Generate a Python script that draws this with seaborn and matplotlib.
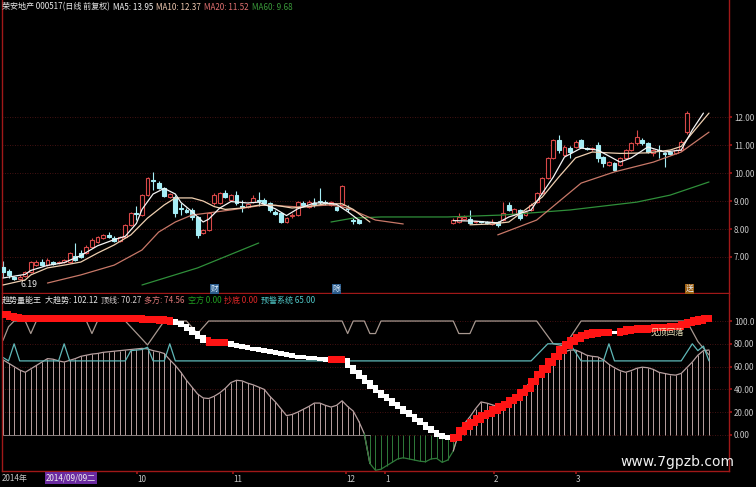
import numpy as np
import pandas as pd
import matplotlib
matplotlib.use("Agg")
import matplotlib.pyplot as plt
import seaborn as sns

# ---------------- data ----------------
# candles (left group, then right group after the suspension gap)
candle_bars = list(range(0, 65)) + list(range(81, 124))
opens = [6.64, 6.50, 6.29, 6.21, 6.32, 6.46, 6.71, 6.82, 6.71, 6.82, 6.80, 6.82, 6.82, 7.04, 7.14, 7.14,
         7.36, 7.54, 7.68, 7.79, 7.68, 7.57, 7.71, 8.14, 8.57, 8.50, 9.21, 9.75, 9.64, 9.46, 9.14, 9.14,
         8.75, 8.68, 8.68, 8.43, 7.86, 7.96, 8.93, 8.93, 9.28, 9.04, 9.21, 8.82, 8.79, 8.96, 9.04, 9.04,
         8.93, 8.61, 8.57, 8.25, 8.46, 8.50, 8.93, 8.79, 8.93, 9.00, 8.96, 8.86, 8.79, 8.86, 8.75, 8.32,
         8.32,
         8.21, 8.25, 8.36, 8.36, 8.25, 8.27, 8.23, 8.18, 8.25, 8.32, 8.86, 8.54, 8.68, 8.50, 8.68, 8.96,
         9.29, 9.82, 10.54, 11.18, 10.64, 10.89, 10.93, 11.18, 10.89, 10.86, 11.00, 10.57, 10.29, 10.36,
         10.29, 10.54, 10.82, 11.07, 11.18, 11.07, 10.71, 10.82, 10.71, 10.75, 10.71, 10.82, 11.46]
highs = [6.86, 6.57, 6.32, 6.36, 6.50, 6.86, 6.89, 6.93, 6.96, 6.86, 6.86, 6.93, 7.18, 7.50, 7.25, 7.43,
         7.68, 7.75, 7.82, 7.89, 7.75, 7.75, 8.18, 8.61, 8.82, 9.25, 9.86, 10.04, 9.70, 9.50, 9.28, 9.21,
         8.93, 8.75, 8.75, 8.46, 8.00, 8.61, 9.28, 9.32, 9.39, 9.25, 9.36, 9.04, 8.93, 9.20, 9.32, 9.10,
         8.96, 8.68, 8.60, 8.43, 8.57, 9.00, 9.00, 9.04, 9.11, 9.46, 9.04, 9.00, 8.82, 9.57, 8.86, 8.39,
         8.36,
         8.39, 8.57, 8.50, 8.68, 8.29, 8.30, 8.27, 8.36, 8.29, 8.96, 8.96, 8.75, 8.71, 8.68, 8.93, 9.32,
         9.86, 10.57, 11.21, 11.36, 11.00, 10.96, 11.18, 11.21, 10.93, 10.93, 11.10, 10.60, 10.43, 10.39,
         10.57, 10.86, 11.11, 11.54, 11.25, 11.10, 10.86, 11.00, 10.75, 10.79, 10.86, 11.18, 12.20]
lows = [6.29, 6.25, 6.19, 6.19, 6.28, 6.43, 6.68, 6.68, 6.68, 6.71, 6.75, 6.78, 6.78, 6.86, 6.96, 7.10,
        7.32, 7.50, 7.64, 7.68, 7.54, 7.54, 7.68, 8.10, 8.32, 8.46, 9.18, 9.39, 9.43, 9.14, 9.10, 8.43,
        8.50, 8.57, 8.32, 7.68, 7.82, 7.93, 8.86, 8.90, 9.10, 9.00, 8.86, 8.61, 8.75, 8.93, 8.82, 8.86,
        8.61, 8.50, 8.20, 8.21, 8.40, 8.46, 8.82, 8.75, 8.79, 8.86, 8.86, 8.82, 8.64, 8.82, 8.61, 8.18,
        8.18,
        8.18, 8.21, 8.32, 8.18, 8.21, 8.22, 8.18, 8.14, 8.07, 8.29, 8.64, 8.50, 8.32, 8.46, 8.64, 8.93,
        9.25, 9.79, 10.50, 10.70, 10.60, 10.54, 10.89, 10.89, 10.82, 10.80, 10.40, 10.20, 10.25, 10.07,
        10.25, 10.50, 10.79, 11.00, 11.00, 10.70, 10.60, 10.54, 10.21, 10.64, 10.68, 10.79, 11.40]
closes = [6.46, 6.36, 6.21, 6.29, 6.46, 6.82, 6.82, 6.71, 6.89, 6.75, 6.82, 6.89, 7.14, 6.89, 7.00, 7.36,
          7.61, 7.71, 7.79, 7.71, 7.57, 7.71, 8.14, 8.57, 8.54, 9.21, 9.82, 9.71, 9.46, 9.18, 9.25, 8.57,
          8.71, 8.61, 8.43, 7.79, 7.96, 8.57, 9.21, 9.28, 9.14, 9.21, 8.93, 8.78, 8.89, 9.11, 9.00, 8.93,
          8.68, 8.54, 8.25, 8.39, 8.50, 8.96, 8.86, 8.96, 8.89, 8.96, 8.93, 8.96, 8.68, 9.54, 8.71, 8.29,
          8.21,
          8.32, 8.43, 8.43, 8.21, 8.25, 8.25, 8.21, 8.25, 8.14, 8.57, 8.68, 8.71, 8.39, 8.61, 8.86, 9.29,
          9.82, 10.54, 11.18, 10.82, 10.93, 10.75, 11.11, 10.93, 10.86, 10.89, 10.54, 10.36, 10.39, 10.11,
          10.54, 10.82, 11.07, 11.29, 11.07, 10.75, 10.82, 10.79, 10.68, 10.68, 10.82, 11.11, 12.14]

# moving averages (vertices), two segments each
ma5_bars = [[0, 4, 5, 8, 11, 14, 17, 20, 22, 24, 25, 27, 29, 31, 32, 34, 36, 37, 39, 41, 44, 46, 49,
             51, 53, 56, 58, 60, 62, 64],
            [81, 85, 89, 91, 95, 99, 101, 104, 107, 111, 113, 116, 119, 122, 124, 126]]
ma5_vals = [[6.25, 6.38, 6.52, 6.70, 6.80, 7.05, 7.40, 7.62, 7.74, 8.20, 8.70, 9.25, 9.45, 9.25, 8.95,
             8.62, 8.25, 8.35, 8.75, 8.98, 8.93, 8.96, 8.72, 8.48, 8.72, 8.93, 8.93, 8.88, 8.62, 8.32],
            [8.30, 8.28, 8.22, 8.43, 8.68, 9.86, 10.57, 10.89, 10.82, 10.39, 10.54, 10.93, 10.75, 10.82,
             11.54, 12.14]]
ma10_bars = [[0, 4, 5, 8, 11, 14, 17, 20, 23, 26, 29, 31, 34, 36, 38, 40, 43, 46, 49, 52, 55, 58, 61,
              63, 66],
             [84, 88, 91, 97, 100, 103, 106, 111, 116, 120, 122, 124, 127]]
ma10_vals = [[6.00, 6.18, 6.36, 6.61, 6.71, 6.82, 7.14, 7.43, 7.79, 8.39, 8.86, 9.11, 9.11, 9.00, 8.80,
              8.70, 8.75, 8.85, 8.85, 8.75, 8.80, 8.90, 8.90, 8.70, 8.25],
             [8.15, 8.18, 8.25, 9.14, 9.86, 10.54, 10.75, 10.70, 10.72, 10.82, 10.95, 11.43, 12.14]]
ma20_bars = [[8, 14, 20, 25, 28, 31, 34, 36, 41, 47, 53, 59, 62, 67, 72],
             [89, 96, 104, 110, 117, 122, 127]]
ma20_vals = [[6.07, 6.36, 6.71, 7.25, 7.89, 8.25, 8.50, 8.55, 8.68, 8.86, 8.79, 8.86, 8.75, 8.32, 8.18],
             [7.79, 8.32, 9.64, 10.04, 10.39, 10.75, 11.46]]
ma60_bars = [[25, 35, 46], [59, 63, 68, 80, 90, 102, 114, 120, 127]]
ma60_vals = [[6.00, 6.61, 7.50], [8.25, 8.39, 8.43, 8.43, 8.50, 8.68, 8.96, 9.21, 9.68]]

# indicator panel, one value per bar (0..127)
trend = [106, 104, 103, 102.5, 102.5, 102, 102, 102, 102, 102, 102.5, 102.5, 102.5, 102, 102, 102,
         102, 102, 102, 102, 102, 102, 102, 102, 102, 101.5, 101.5, 101.5, 101, 100.5, 100,
         98, 96, 93, 89.5, 86, 82.5, 81, 81, 81, 81, 79, 78, 77, 76, 75.5, 74.5, 73.5, 73, 72, 71, 70,
         69, 68.5, 68, 67.5, 67, 66.5, 66, 66, 66, 66, 60, 55, 51, 46.5, 42, 38, 34, 31, 27, 24, 20, 17,
         13, 10, 6, 3, 0, -2, -3, -2, 3.5, 8, 11, 14, 17, 19, 22, 24.5, 27, 30, 33, 37, 41, 47, 53, 58,
         64, 69, 74.5, 79, 82.5, 85, 87, 88.5, 89.5, 90, 90, 90, 90, 91, 92, 92.5, 93, 93, 93.5, 94, 94,
         94.5, 95, 95, 97, 99, 100, 101, 102, 102.12]
trend_white_runs = [(31, 36), (41, 58), (62, 80), (110, 110)]
bull = [66, 63, 60, 57, 55, 58, 61, 64, 67, 66.5, 65, 64, 65.5, 67, 69, 70, 71, 71.5, 72.5, 73, 73.5,
        74, 74.5, 75, 75.5, 76, 75.5, 74, 73, 71.5, 66, 61, 55, 48, 42, 36, 32.5, 32, 34, 37, 41, 46,
        48, 47.5, 45.5, 44, 42, 40, 34, 29, 23, 17, 18, 20, 22.5, 25, 28, 28, 26, 24.5, 26, 30, 25, 21,
        12, 1, -25, -31, -30, -27, -24, -21, -20, -21, -22, -23, -23.5, -21, -20.5, -24, -22, -14, 2,
        10, 16, 23, 29, 28, 26.5, 25, 26.5, 28, 32, 38, 42, 47, 51, 57, 63, 67, 71, 73, 74.5, 74.5,
        72.5, 70, 69, 68.5, 66, 62, 59, 56.5, 55, 56.5, 58.5, 59.5, 59, 57.5, 55, 54, 53, 52.5, 54, 59,
        64, 70, 74, 74.56]
top_bars = [0, 1, 2, 4, 5, 6, 15, 16, 17, 22, 26, 29, 33, 35, 37, 61, 62, 63, 65, 66, 67, 68, 81, 82,
            84, 85, 96, 99, 101, 104, 123, 125, 127]
top_vals = [83, 95, 100, 100, 89, 100, 100, 89, 100, 100, 79, 100, 100, 89, 100, 100, 89, 100, 100, 89,
            89, 100, 100, 89, 89, 100, 100, 80, 78, 100, 100, 82, 70.27]
warn_bars = [0, 1, 2, 3, 10, 11, 12, 22, 23, 25, 26, 27, 29, 30, 31, 95, 98, 102, 104, 108, 109, 110,
             122, 124, 125, 126, 127]
warn_vals = [68, 65, 80, 65, 65, 80, 65, 65, 74, 75, 77, 65, 65, 80, 65, 65, 80, 80, 65, 65, 80, 65,
             65, 80, 74, 78, 65]

month_bars = [24.1, 41.4, 61.7, 68.7, 88.3, 103.0]
month_labels = ["10", "11", "12", "1", "2", "3"]
price_ticks = [7, 8, 9, 10, 11, 12]
ind_ticks = [0, 20, 40, 60, 80, 100]
ind_tick_labels = ["0.00", "20.00", "40.00", "60.00", "80.00", "100.0"]

# ---------------- style ----------------
sns.set_theme(style="dark", rc={"axes.facecolor": "black", "figure.facecolor": "black"})
plt.rcParams['font.family'] = ['Noto Sans CJK SC', 'DejaVu Sans']
plt.rcParams['axes.unicode_minus'] = False

RED_LINE = "#a01818"
GRID = "#5a1818"
UP = "#d84848"
DOWN = "#a6eef6"
TXT = "#c8c8c8"

W, H = 756, 487
fig = plt.figure(figsize=(W / 100, H / 100), dpi=100, facecolor="black")


def box(x0, y0, x1, y1):
    return [x0 / W, 1 - y1 / H, (x1 - x0) / W, (y1 - y0) / H]


ax1 = fig.add_axes(box(2, 0, 729, 293))
ax2 = fig.add_axes(box(2, 294, 729, 471))
for ax in (ax1, ax2):
    ax.set_facecolor("black")
    ax.set_xlim(-0.18, 130.6)
    for side in ("left", "right", "bottom"):
        ax.spines[side].set_visible(True)
        ax.spines[side].set_color(RED_LINE)
        ax.spines[side].set_linewidth(1.0)
    ax.spines["top"].set_visible(False)
    ax.grid(False)
    ax.yaxis.tick_right()
    ax.tick_params(axis="y", which="both", left=False, right=True, labelleft=False, labelright=True,
                   colors=RED_LINE, labelcolor=TXT, labelsize=5.8, length=2, pad=1.5)

ax1.set_ylim(5.714, 16.18)
ax2.set_ylim(-31.6, 123.7)

# ---------------- price panel ----------------
for p in price_ticks:
    ax1.axhline(p, color=GRID, lw=0.6, ls=(0, (1, 2)), zorder=0)
ax1.set_yticks(price_ticks)
ax1.set_yticklabels([f"{p:.2f}" for p in price_ticks])
ax1.set_xticks([])

cdf = pd.DataFrame({"bar": candle_bars, "open": opens, "high": highs, "low": lows, "close": closes})
cdf["bottom"] = cdf[["open", "close"]].min(axis=1)
cdf["height"] = (cdf["close"] - cdf["open"]).abs().clip(lower=0.025)
up = cdf["close"] >= cdf["open"]
for mask, col, face in [(up, UP, "black"), (~up, DOWN, DOWN)]:
    sub = cdf[mask]
    ax1.vlines(sub["bar"], sub["low"], sub["high"], color=col, lw=0.8, zorder=2)
    ax1.bar(sub["bar"], sub["height"], bottom=sub["bottom"], width=0.7, facecolor=face,
            edgecolor=col, linewidth=0.8, zorder=3)


def seg_frame(bars, vals):
    rows = []
    for k, (bs, vs) in enumerate(zip(bars, vals)):
        rows += [{"bar": b, "val": v, "seg": k} for b, v in zip(bs, vs)]
    return pd.DataFrame(rows)


for bars, vals, col in [(ma60_bars, ma60_vals, "#2f8f3a"), (ma20_bars, ma20_vals, "#c87868"),
                        (ma10_bars, ma10_vals, "#efcfb0"), (ma5_bars, ma5_vals, "#f4f4f4")]:
    sns.lineplot(data=seg_frame(bars, vals), x="bar", y="val", units="seg", estimator=None,
                 sort=False, color=col, lw=0.9, ax=ax1, zorder=4)
ax1.set_xlabel("")
ax1.set_ylabel("")

ax1.annotate("6.19", xy=(2, 6.19), xytext=(3.2, 5.93), color="#e8e8e8", fontsize=6.3,
             arrowprops=dict(arrowstyle="-", color="#e8e8e8", lw=0.6))
for b, s, bg in [(38, "财", "#2c5c8c"), (60, "除", "#2c5c8c"), (123.5, "送", "#a06010")]:
    ax1.text(b, 5.85, s, color="#e0f0ff", fontsize=5.5, ha="center", va="center",
             bbox=dict(boxstyle="square,pad=0.1", fc=bg, ec="none"))

renderer = fig.canvas.get_renderer()


def text_row(items, x0, y, size):
    # lay the pieces out one after the other so they never overlap
    x = x0
    for s, col in items:
        t = fig.text(x / W, 1 - y / H, s, color=col, fontsize=size, ha="left", va="center")
        x = t.get_window_extent(renderer).x1 + 3


text_row([("荣安地产 000517(日线 前复权)", "#e8e8e8"), ("MA5: 13.95", "#f4f4f4"),
          ("MA10: 12.37", "#efc8b0"), ("MA20: 11.52", "#e07070"), ("MA60: 9.68", "#3a9a3a")],
         2, 7, 5.8)

# ---------------- indicator panel ----------------
for v in ind_ticks:
    ax2.axhline(v, color=GRID, lw=0.6, ls=(0, (1, 2)), zorder=0)
ax2.set_yticks(ind_ticks)
ax2.set_yticklabels(ind_tick_labels)

ind = pd.DataFrame({"bar": np.arange(len(trend)), "trend": trend, "bull": bull})
pos = ind[ind["bull"] >= 0]
neg = ind[ind["bull"] < 0]
ax2.vlines(pos["bar"], 0, pos["bull"], color="#b8a0a0", lw=0.7, zorder=1)
ax2.vlines(neg["bar"], 0, neg["bull"], color="#2f7a3a", lw=0.7, zorder=1)
ax2.plot([0, 66], [0, 0], color="#8a8080", lw=0.7, zorder=1)
sns.lineplot(data=ind[ind["bar"] <= 66], x="bar", y="bull", color="#b8a0a0", lw=0.9, ax=ax2, zorder=2)
sns.lineplot(data=ind[(ind["bar"] >= 65) & (ind["bar"] <= 82)], x="bar", y="bull", color="#2f7a3a",
             lw=0.9, ax=ax2, zorder=2)
sns.lineplot(data=ind[ind["bar"] >= 81], x="bar", y="bull", color="#b8a0a0", lw=0.9, ax=ax2, zorder=2)
sns.lineplot(x=top_bars, y=top_vals, color="#a89890", lw=0.9, ax=ax2, zorder=2)
sns.lineplot(x=warn_bars, y=warn_vals, color="#5fb8b8", lw=0.9, ax=ax2, zorder=2)

white = np.zeros(len(trend), dtype=bool)
for a, b in trend_white_runs:
    white[a:b + 1] = True
ind["prev"] = ind["trend"].shift(1).fillna(ind["trend"].iloc[0])
ind["lo"] = ind[["prev", "trend"]].min(axis=1)
ind["hi"] = ind[["prev", "trend"]].max(axis=1)
for mask, col, h in [(~white, "#ff1414", 3.2), (white, "#ffffff", 1.6)]:
    sub = ind[mask]
    ax2.bar(sub["bar"], sub["hi"] - sub["lo"] + 2 * h, bottom=sub["lo"] - h, width=1.0, color=col,
            linewidth=0, zorder=5)
ax2.set_xlabel("")
ax2.set_ylabel("")
ax2.text(119.6, 90.5, "见顶回落", color="#f0e8c0", fontsize=6.0, ha="center", va="center", zorder=6)

# date axis along bottom
ax2.set_xticks(month_bars)
ax2.set_xticklabels(month_labels)
ax2.tick_params(axis="x", bottom=True, length=2, colors=RED_LINE, labelcolor=TXT, labelsize=5.8, pad=1)
for t in ax2.get_xticklabels():
    t.set_ha("left")

text_row([("趋势量能王", "#e8e8e8"), ("大趋势: 102.12", "#e8e8e8"), ("顶线: 70.27", "#d8d0d0"),
          ("多方: 74.56", "#e07878"), ("空方 0.00", "#20a020"), ("抄底 0.00", "#e02828"),
          ("预警系统 65.00", "#50c8c8")], 2, 300, 5.8)

fig.text(2 / W, 1 - 478 / H, "2014年", color=TXT, fontsize=5.8, ha="left", va="center")
fig.text(46 / W, 1 - 478 / H, "2014/09/09二", color="#f0f0f0", fontsize=5.8, ha="left", va="center",
         bbox=dict(boxstyle="square,pad=0.15", fc="#6a2aa0", ec="none"))
fig.text(677 / W, 1 - 462 / H, "www.7gpzb.com", color="#f0f0f0", fontsize=10, ha="center", va="center",
         fontfamily=["DejaVu Sans"])

fig.savefig("out.png", dpi=100, facecolor="black")
